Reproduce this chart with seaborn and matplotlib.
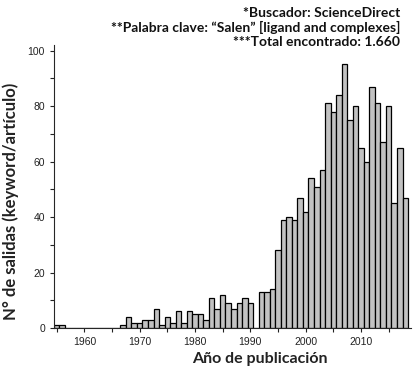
import matplotlib
matplotlib.use('Agg')
import matplotlib.pyplot as plt
import seaborn as sns
from matplotlib.ticker import MultipleLocator

# publications per year
years = list(range(1955, 2019))
counts = [1, 1, 0, 0, 0, 0, 0, 0, 0, 0, 0, 0,
          1, 4, 2, 2, 3, 3, 7, 1, 4, 2, 6, 2, 6, 5,
          5, 3, 11, 7, 12, 9, 7, 9, 11, 9,
          0, 13, 13, 14, 28, 39, 40, 39, 47,
          42, 54, 51, 57, 81, 78, 84, 95, 75, 80,
          65, 60, 87, 81, 67, 80, 45, 65, 47]

notes = ['*Buscador: ScienceDirect',
         '**Palabra clave: \u201cSalen\u201d [ligand and complexes]',
         '***Total encontrado: 1.660']

sns.set_style('ticks')
plt.rcParams['font.family'] = ['Liberation Sans', 'DejaVu Sans']

fig = plt.figure(figsize=(4.15, 3.75), dpi=100)
ax = fig.add_axes([0.130, 0.125, 0.860, 0.755])

sns.histplot(x=years, weights=counts, discrete=True, ax=ax,
             color='#c2c2c2', edgecolor='black', linewidth=0.9, alpha=1)

# axes format
ax.set_xlim(1954.5, 2019.0)
ax.set_ylim(0, 102)
ax.xaxis.set_major_locator(MultipleLocator(10))
ax.xaxis.set_minor_locator(MultipleLocator(5))
ax.yaxis.set_major_locator(MultipleLocator(20))
ax.yaxis.set_minor_locator(MultipleLocator(10))
ax.tick_params(which='both', direction='out', length=3, width=0.8, labelsize=7.5, colors='#222222')
sns.despine(ax=ax)

ax.set_xlabel('Año de publicación', fontsize=11.5, fontweight='bold', family='Lato', color='#222222')
ax.set_ylabel('N° de salidas (keyword/artículo)', fontsize=12, fontweight='bold', family='Lato', color='#222222')
ax.xaxis.set_label_coords(0.576, -0.085)
ax.yaxis.set_label_coords(-0.097, 0.449)

# search notes
for i, note in enumerate(notes):
    fig.text(0.965, 0.965 - i * 0.039, note, ha='right', va='center',
             fontsize=10, fontweight='bold', family='Lato', color='#111111')

plt.savefig('out.png', dpi=100)
plt.close()
